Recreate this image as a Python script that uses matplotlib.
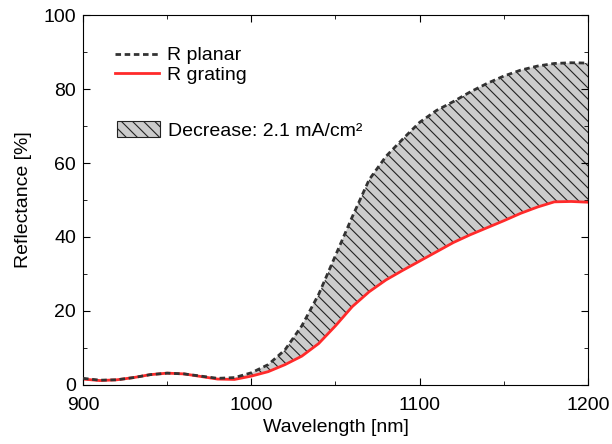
import matplotlib
matplotlib.use("Agg")
import matplotlib.pyplot as plt
from matplotlib.lines import Line2D
from matplotlib.patches import Patch
from matplotlib.ticker import MultipleLocator

plt.rcParams['font.family'] = ['Liberation Sans', 'DejaVu Sans']
plt.rcParams['hatch.linewidth'] = 0.8

wavelength = [900, 910, 920, 930, 940, 950, 960, 970, 980, 990,
              1000, 1010, 1020, 1030, 1040, 1050, 1060, 1070, 1080, 1090,
              1100, 1110, 1120, 1130, 1140, 1150, 1160, 1170, 1180, 1190, 1200]
r_planar = [1.8, 1.3, 1.4, 2.0, 2.8, 3.2, 3.0, 2.4, 1.8, 2.0,
            3.3, 5.5, 9.5, 16.0, 24.5, 35.0, 45.5, 55.5, 61.8, 66.5,
            71.0, 74.2, 76.6, 79.2, 81.5, 83.5, 85.1, 86.2, 86.9, 87.1, 87.0]
r_grating = [1.6, 1.2, 1.4, 2.0, 2.8, 3.2, 3.0, 2.3, 1.6, 1.5,
             2.4, 3.6, 5.5, 7.8, 11.2, 16.0, 21.2, 25.2, 28.4, 31.0,
             33.5, 36.0, 38.5, 40.6, 42.5, 44.4, 46.4, 48.1, 49.5, 49.6, 49.4]

fig = plt.figure(figsize=(6.12, 4.44), dpi=100)
ax = fig.add_axes([0.1356, 0.1329, 0.8252, 0.8333])

ax.fill_between(wavelength, r_grating, r_planar, facecolor='#cccccc',
                edgecolor='#222222', hatch='\\\\\\', linewidth=0, zorder=1)
ax.plot(wavelength, r_grating, color='#ff2a2a', lw=2, zorder=2)
ax.plot(wavelength, r_planar, color='#333333', lw=2, ls=(0, (2, 1.3)), zorder=3)

ax.set_xlim(900, 1200)
ax.set_ylim(0, 100)
ax.xaxis.set_major_locator(MultipleLocator(100))
ax.xaxis.set_minor_locator(MultipleLocator(50))
ax.yaxis.set_major_locator(MultipleLocator(20))
ax.yaxis.set_minor_locator(MultipleLocator(10))
ax.tick_params(which='both', direction='in', top=True, right=True, labelsize=14)
ax.tick_params(which='major', length=5)
ax.tick_params(which='minor', length=3)
ax.tick_params(axis='x', pad=9)
ax.tick_params(axis='y', pad=5)
ax.set_xlabel('Wavelength [nm]', fontsize=14, labelpad=3)
ax.set_ylabel('Reflectance [%]', fontsize=14, labelpad=8)

h_lines = [Line2D([], [], color='#333333', lw=2, ls=(0, (2, 1.3))),
           Line2D([], [], color='#ff2a2a', lw=2)]
leg1 = ax.legend(h_lines, ['R planar', 'R grating'], loc='upper left',
                 bbox_to_anchor=(0.047, 0.935), frameon=False, fontsize=14,
                 handlelength=2.3, handletextpad=0.4, labelspacing=0.1,
                 borderaxespad=0)
ax.add_artist(leg1)
h_patch = [Patch(facecolor='#cccccc', edgecolor='#222222', hatch='\\\\\\', lw=0.8)]
ax.legend(h_patch, ['Decrease: 2.1 mA/cm²'], loc='upper left',
          bbox_to_anchor=(0.052, 0.735), frameon=False, fontsize=14,
          handlelength=2.2, handleheight=0.9, handletextpad=0.4, borderaxespad=0)

fig.savefig('out.png', dpi=100)
